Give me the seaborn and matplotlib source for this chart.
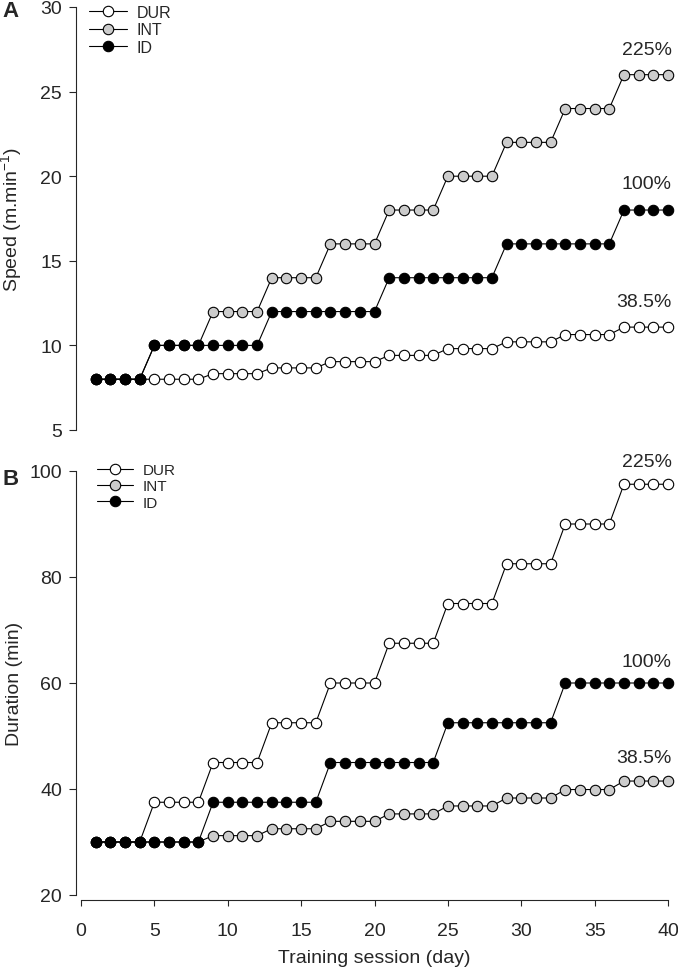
import matplotlib
matplotlib.use("Agg")
import matplotlib.pyplot as plt
import pandas as pd
import seaborn as sns

# ---- data ----
sessions = list(range(1, 41))
groups = ["DUR", "INT", "ID"]

speed_dur = [8, 8, 8, 8, 8, 8, 8, 8,
             8.33, 8.33, 8.33, 8.33, 8.67, 8.67, 8.67, 8.67,
             9.04, 9.04, 9.04, 9.04, 9.41, 9.41, 9.41, 9.41,
             9.81, 9.81, 9.81, 9.81, 10.21, 10.21, 10.21, 10.21,
             10.64, 10.64, 10.64, 10.64, 11.08, 11.08, 11.08, 11.08]
speed_int = [8, 8, 8, 8, 10, 10, 10, 10,
             12, 12, 12, 12, 14, 14, 14, 14,
             16, 16, 16, 16, 18, 18, 18, 18,
             20, 20, 20, 20, 22, 22, 22, 22,
             24, 24, 24, 24, 26, 26, 26, 26]
speed_id = [8, 8, 8, 8, 10, 10, 10, 10,
            10, 10, 10, 10, 12, 12, 12, 12,
            12, 12, 12, 12, 14, 14, 14, 14,
            14, 14, 14, 14, 16, 16, 16, 16,
            16, 16, 16, 16, 18, 18, 18, 18]

dur_dur = [30, 30, 30, 30, 37.5, 37.5, 37.5, 37.5,
           45, 45, 45, 45, 52.5, 52.5, 52.5, 52.5,
           60, 60, 60, 60, 67.5, 67.5, 67.5, 67.5,
           75, 75, 75, 75, 82.5, 82.5, 82.5, 82.5,
           90, 90, 90, 90, 97.5, 97.5, 97.5, 97.5]
dur_int = [30, 30, 30, 30, 30, 30, 30, 30,
           31.2, 31.2, 31.2, 31.2, 32.5, 32.5, 32.5, 32.5,
           33.9, 33.9, 33.9, 33.9, 35.3, 35.3, 35.3, 35.3,
           36.8, 36.8, 36.8, 36.8, 38.3, 38.3, 38.3, 38.3,
           39.9, 39.9, 39.9, 39.9, 41.5, 41.5, 41.5, 41.5]
dur_id = [30, 30, 30, 30, 30, 30, 30, 30,
          37.5, 37.5, 37.5, 37.5, 37.5, 37.5, 37.5, 37.5,
          45, 45, 45, 45, 45, 45, 45, 45,
          52.5, 52.5, 52.5, 52.5, 52.5, 52.5, 52.5, 52.5,
          60, 60, 60, 60, 60, 60, 60, 60]

pct_labels = ["225%", "100%", "38.5%"]

face_colors = {"DUR": "white", "INT": "#cccccc", "ID": "black"}


def long_table(dur, inten, idd):
    frames = []
    for g, vals in zip(groups, [dur, inten, idd]):
        frames.append(pd.DataFrame({"session": sessions, "value": vals, "group": g}))
    return pd.concat(frames, ignore_index=True)


speed_df = long_table(speed_dur, speed_int, speed_id)
dur_df = long_table(dur_dur, dur_int, dur_id)

# ---- style ----
sns.set_style("ticks")
plt.rcParams["font.family"] = ["Liberation Sans", "DejaVu Sans"]
plt.rcParams["mathtext.default"] = "regular"

W, H = 678, 970
fig = plt.figure(figsize=(W / 100, H / 100), dpi=100)


def px_axes(left, top, right, bottom):
    return fig.add_axes([left / W, 1 - bottom / H, (right - left) / W, (bottom - top) / H])


ax_a = px_axes(81, 8, 668, 431)
ax_b = px_axes(81, 472, 668, 896)


def draw_panel(ax, df):
    for g in groups:
        sub = df[df["group"] == g]
        sns.lineplot(data=sub, x="session", y="value", ax=ax, color="black",
                     linewidth=0.8, marker="o", markersize=7.5,
                     markerfacecolor=face_colors[g], markeredgecolor="black",
                     markeredgewidth=0.8, label=g, clip_on=False)
    for s in ["top", "right"]:
        ax.spines[s].set_visible(False)
    ax.spines["left"].set_position(("outward", 3.6))
    ax.spines["left"].set_linewidth(0.8)
    ax.spines["bottom"].set_linewidth(0.8)
    ax.set_xlim(0, 40)
    ax.set_xticks(range(0, 41, 5))
    ax.tick_params(axis="y", direction="out", length=5, width=0.8, pad=5, labelsize=14)
    ax.tick_params(axis="x", direction="out", length=4, width=0.8, pad=12, labelsize=14)
    ax.set_xlabel("")


def place_legend(ax, left_px, top_px, hl, htp, fs):
    handles, labels = ax.get_legend_handles_labels()
    ax.legend(handles, labels, frameon=False, loc="upper left",
              bbox_to_anchor=(left_px / W, 1 - top_px / H), bbox_transform=fig.transFigure,
              borderpad=0, borderaxespad=0, handlelength=hl, handletextpad=htp,
              labelspacing=0.15, fontsize=fs)


# Panel A: speed
draw_panel(ax_a, speed_df)
ax_a.set_ylim(5, 30)
ax_a.set_yticks(range(5, 31, 5))
ax_a.spines["bottom"].set_visible(False)
ax_a.tick_params(axis="x", bottom=False, labelbottom=False)
ax_a.set_ylabel(r"Speed (m.min$^{-1}$)", fontsize=14)
ax_a.yaxis.set_label_coords(-0.097, 0.5)
place_legend(ax_a, 89, 6, 2.4, 0.56, 11.5)
for label, yv in zip(pct_labels, [27.46, 19.54, 12.57]):
    ax_a.text(40.27, yv, label, ha="right", va="center", fontsize=14)

# Panel B: duration
draw_panel(ax_b, dur_df)
ax_b.set_ylim(20, 100)
ax_b.set_yticks(range(20, 101, 20))
ax_b.spines["bottom"].set_position(("outward", 3.6))
ax_b.set_ylabel("Duration (min)", fontsize=14)
ax_b.yaxis.set_label_coords(-0.099, 0.5)
ax_b.set_xlabel("Training session (day)", fontsize=14, labelpad=7)
place_legend(ax_b, 97, 464, 2.35, 0.65, 11)
for label, yv in zip(pct_labels, [101.7, 64.15, 46.0]):
    ax_b.text(40.27, yv, label, ha="right", va="center", fontsize=14)

fig.text(2 / W, 1 - 17 / H, "A", fontsize=16, fontweight="bold", va="baseline", ha="left")
fig.text(2 / W, 1 - 485 / H, "B", fontsize=16, fontweight="bold", va="baseline", ha="left")

fig.savefig("out.png", dpi=100)
